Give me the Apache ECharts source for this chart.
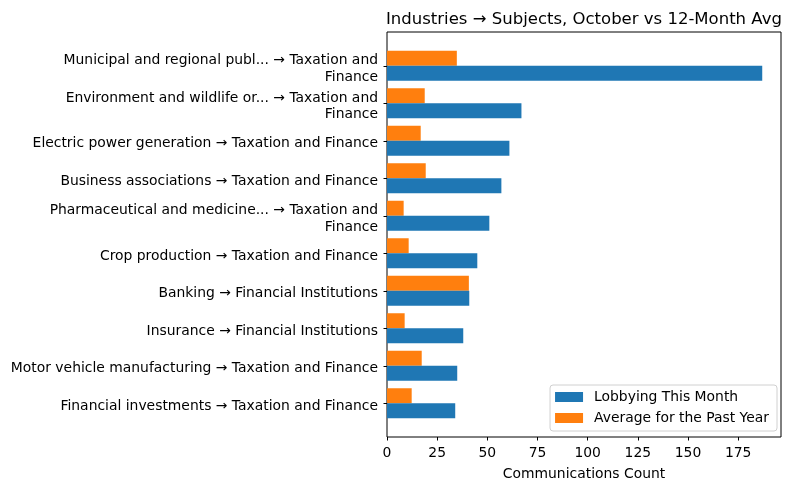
<!DOCTYPE html>
<html>
<head>
<meta charset="utf-8">
<script src="https://cdn.jsdelivr.net/npm/echarts@6/dist/echarts.min.js"></script>
<style>html,body{margin:0;padding:0;background:#fff;}#c{width:793px;height:491px;}</style>
</head>
<body>
<div id="c"></div>
<script>
const categories = [
  "Municipal and regional publ... \u2192 Taxation and\nFinance",
  "Environment and wildlife or... \u2192 Taxation and\nFinance",
  "Electric power generation \u2192 Taxation and Finance",
  "Business associations \u2192 Taxation and Finance",
  "Pharmaceutical and medicine... \u2192 Taxation and\nFinance",
  "Crop production \u2192 Taxation and Finance",
  "Banking \u2192 Financial Institutions",
  "Insurance \u2192 Financial Institutions",
  "Motor vehicle manufacturing \u2192 Taxation and Finance",
  "Financial investments \u2192 Taxation and Finance"
];
const thisMonth = [187, 67, 61, 57, 51, 45, 41, 38, 35, 34];
const avgYear = [34.8, 18.8, 16.8, 19.3, 8.3, 10.8, 40.8, 8.8, 17.3, 12.3];
const xTicks = [0, 25, 50, 75, 100, 125, 150, 175];

const FONT = 'DejaVu Sans';
const FS = 13.9;
const xMax = Math.max(...thisMonth, ...avgYear) * 1.05;

const chart = echarts.init(document.getElementById('c'), null, {renderer: 'canvas'});
chart.setOption({
  animation: false,
  backgroundColor: '#fff',
  textStyle: {fontFamily: FONT},
  title: {
    text: 'Industries \u2192 Subjects, October vs 12-Month Avg',
    left: 386, top: 11, padding: 0,
    textStyle: {fontFamily: FONT, fontSize: 16.5, fontWeight: 'normal', color: '#000'}
  },
  legend: {
    orient: 'vertical',
    right: 16, top: 385,
    data: ['Lobbying This Month', 'Average for the Past Year'],
    itemWidth: 28, itemHeight: 10, itemGap: 5,
    icon: 'rect',
    padding: [4, 8, 5, 5],
    backgroundColor: 'rgba(255,255,255,0.8)',
    borderColor: '#d0d0d0', borderWidth: 1, borderRadius: 3,
    textStyle: {fontFamily: FONT, fontSize: FS, color: '#000', lineHeight: 16, padding: [0, 0, 0, 6]}
  },
  grid: [
    {left: 387, right: 12, top: 47, height: 375, containLabel: false},
    {left: 387, right: 12, top: 32, height: 405, show: true, borderColor: '#000', borderWidth: 1, backgroundColor: 'transparent'},
    {left: 387, right: 12, top: 50, height: 375, containLabel: false}
  ],
  xAxis: [
    {
      type: 'value', gridIndex: 0, min: 0, max: xMax, interval: 25,
      position: 'bottom', offset: 15,
      axisLine: {show: false},
      axisTick: {show: true, length: 3.5, lineStyle: {color: '#000'}},
      axisLabel: {
        color: '#000', fontFamily: FONT, fontSize: FS, margin: 9.5,
        showMaxLabel: false,
        formatter: v => xTicks.includes(v) ? String(v) : ''
      },
      splitLine: {show: false},
      name: 'Communications Count', nameLocation: 'middle', nameGap: 30.5,
      nameTextStyle: {color: '#000', fontFamily: FONT, fontSize: FS}
    },
    {type: 'value', gridIndex: 1, show: false},
    {type: 'value', gridIndex: 2, show: false}
  ],
  yAxis: [
    {
      type: 'category', gridIndex: 0, data: categories, inverse: true, z: 5,
      axisLine: {show: false},
      axisTick: {show: true, alignWithLabel: true, length: 3.5, lineStyle: {color: '#000'}},
      axisLabel: {show: false},
      splitLine: {show: false}
    },
    {type: 'category', gridIndex: 1, show: false, data: ['a']},
    {
      type: 'category', gridIndex: 2, data: categories, inverse: true,
      axisLine: {show: false},
      axisTick: {show: false},
      axisLabel: {color: '#000', fontFamily: FONT, fontSize: FS, margin: 9, lineHeight: 16.5, align: 'right', interval: 0},
      splitLine: {show: false}
    }
  ],
  series: [
    {
      name: 'Average for the Past Year', type: 'bar', data: avgYear,
      xAxisIndex: 0, yAxisIndex: 0,
      barWidth: '40%', barGap: '0%', barCategoryGap: '20%',
      itemStyle: {color: '#ff7f0e'}
    },
    {
      name: 'Lobbying This Month', type: 'bar', data: thisMonth,
      xAxisIndex: 0, yAxisIndex: 0,
      barWidth: '40%', barGap: '0%', barCategoryGap: '20%',
      itemStyle: {color: '#1f77b4'}
    }
  ]
});
</script>
</body>
</html>
